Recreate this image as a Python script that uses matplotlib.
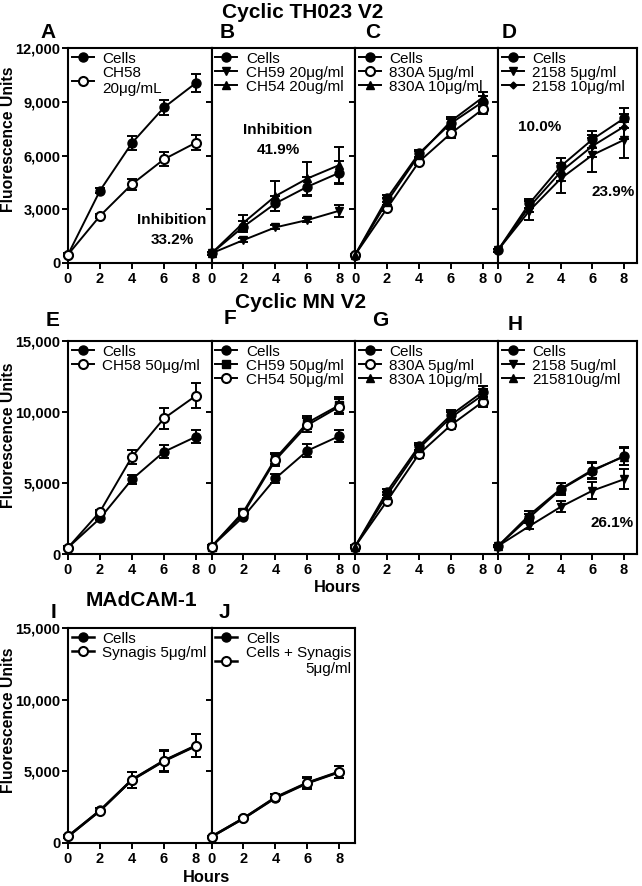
import matplotlib
matplotlib.use("Agg")
import matplotlib.pyplot as plt
from matplotlib.ticker import FuncFormatter

plt.rcParams['font.family'] = ['Liberation Sans', 'DejaVu Sans']

W, H = 642, 886
DPI = 100

hours = [0, 2, 4, 6, 8]
xticks = [0, 2, 4, 6, 8]

# ---------------- data ----------------
A_cells = [470, 4040, 6700, 8680, 10050]; A_cells_e = [100, 150, 400, 430, 500]
A_ch58 = [470, 2630, 4400, 5790, 6720]; A_ch58_e = [100, 120, 300, 400, 420]

B_cells = [540, 2030, 3330, 4260, 5040]; B_cells_e = [80, 300, 400, 520, 630]
B_ch59 = [540, 1280, 1990, 2400, 2920]; B_ch59_e = [80, 100, 120, 120, 330]
B_ch54 = [540, 2250, 3740, 4720, 5470]; B_ch54_e = [80, 410, 840, 930, 1020]

C_cells = [450, 3610, 6120, 7800, 9000]; C_cells_e = [80, 200, 200, 250, 300]
C_830a5 = [450, 3050, 5650, 7240, 8590]; C_830a5_e = [80, 150, 200, 250, 300]
C_830a10 = [450, 3420, 6030, 7920, 9250]; C_830a10_e = [80, 200, 200, 250, 300]

D_cells = [720, 3330, 5410, 6900, 8070]; D_cells_e = [80, 240, 430, 480, 560]
D_2158_5 = [720, 2920, 4720, 6030, 6870]; D_2158_5_e = [80, 520, 840, 930, 1020]
D_2158_10 = [720, 3140, 5100, 6530, 7610]; D_2158_10_e = [80, 300, 500, 600, 700]

E_cells = [450, 2510, 5260, 7200, 8260]; E_cells_e = [100, 150, 300, 450, 450]
E_ch58 = [450, 2980, 6850, 9550, 11150]; E_ch58_e = [100, 150, 500, 750, 900]

F_cells = [520, 2630, 5330, 7280, 8310]; F_cells_e = [100, 150, 300, 450, 420]
F_ch59 = [520, 2980, 6740, 9250, 10490]; F_ch59_e = [100, 200, 400, 470, 540]
F_ch54 = [520, 2860, 6620, 9080, 10380]; F_ch54_e = [100, 200, 400, 470, 540]

G_cells = [520, 4390, 7600, 9790, 11430]; G_cells_e = [100, 200, 250, 350, 400]
G_830a5 = [520, 3730, 7040, 9080, 10730]; G_830a5_e = [100, 150, 250, 300, 350]
G_830a10 = [520, 4150, 7440, 9620, 11200]; G_830a10_e = [100, 200, 250, 350, 400]

H_cells = [560, 2580, 4550, 5850, 6900]; H_cells_e = [100, 250, 420, 590, 610]
H_2158_5 = [560, 1970, 3330, 4460, 5260]; H_2158_5_e = [100, 200, 400, 620, 700]
H_215810 = [560, 2750, 4600, 5920, 6850]; H_215810_e = [100, 250, 400, 550, 600]

I_cells = [460, 2270, 4400, 5720, 6770]; I_cells_e = [80, 200, 580, 750, 800]
I_syn = [460, 2250, 4420, 5750, 6800]; I_syn_e = [80, 200, 550, 700, 800]

J_cells = [440, 1720, 3150, 4180, 4950]; J_cells_e = [80, 100, 250, 400, 440]
J_syn = [440, 1720, 3190, 4210, 4980]; J_syn_e = [80, 100, 200, 350, 420]

top_yticks = [0, 3000, 6000, 9000, 12000]
mid_yticks = [0, 5000, 10000, 15000]

# ---------------- styles ----------------
FILLED = dict(marker='o', mfc='black', mec='black')
OPEN = dict(marker='o', mfc='white', mec='black', mew=1.5)
DOWN = dict(marker='v', mfc='black', mec='black', ms=6)
UP = dict(marker='^', mfc='black', mec='black', ms=6)
SQ = dict(marker='s', mfc='black', mec='black', ms=5.5)
DIA = dict(marker='D', mfc='black', mec='black', ms=3.5)

fig = plt.figure(figsize=(W / DPI, H / DPI), dpi=DPI)


def px_axes(x0, x1, ytop, ybot):
    return fig.add_axes([x0 / W, (H - ybot) / H, (x1 - x0) / W, (ybot - ytop) / H])


fmt = FuncFormatter(lambda v, p: f"{int(v):,}")


def panel(ax, series, yticks, ymax, first, xmax, leg_labels, lw=1.4):
    handles = []
    for (vals, errs, style) in series:
        ms = style.get('ms', 6.5)
        st = {k: v for k, v in style.items() if k != 'ms'}
        ax.errorbar(hours, vals, yerr=errs, fmt='none', ecolor='black',
                    elinewidth=1.4, capsize=3.4, capthick=1.4, clip_on=False, zorder=2)
        ln, = ax.plot(hours, vals, color='black', lw=lw, ms=ms, clip_on=False,
                      zorder=3, **st)
        handles.append(ln)
    ax.set_xlim(0, xmax)
    ax.set_ylim(0, ymax)
    ax.set_xticks(xticks)
    ax.set_yticks(yticks)
    ax.yaxis.set_major_formatter(fmt)
    for s in ax.spines.values():
        s.set_linewidth(1.5)
    ax.tick_params(direction='out', length=4, width=1.4, pad=1.5)
    ax.tick_params(axis='x', pad=2.5)
    for t in ax.get_xticklabels() + ax.get_yticklabels():
        t.set_fontweight('bold')
        t.set_fontsize(10.5)
    if not first:
        ax.set_yticklabels([])
    leg = ax.legend(handles, leg_labels, loc='upper left', bbox_to_anchor=(0.0, 1.0),
                    frameon=False, fontsize=11, handlelength=1.45, handletextpad=0.55,
                    labelspacing=0.0, borderpad=0.15, borderaxespad=0.1)
    return leg


cols = [(68, 211.5), (211.5, 355), (355, 498), (498, 637)]
xmaxs = [8.97, 8.97, 8.94, 8.83]
rows = [(48, 263), (341, 554), (628, 843)]

# top row
axA = px_axes(*cols[0], *rows[0])
panel(axA, [(A_cells, A_cells_e, FILLED), (A_ch58, A_ch58_e, OPEN)],
      top_yticks, 12000, True, xmaxs[0], ['Cells', 'CH58\n20μg/mL'])
axB = px_axes(*cols[1], *rows[0])
panel(axB, [(B_cells, B_cells_e, FILLED), (B_ch59, B_ch59_e, DOWN),
            (B_ch54, B_ch54_e, UP)],
      top_yticks, 12000, False, xmaxs[1], ['Cells', 'CH59 20μg/ml', 'CH54 20ug/ml'])
axC = px_axes(*cols[2], *rows[0])
panel(axC, [(C_cells, C_cells_e, FILLED), (C_830a5, C_830a5_e, OPEN),
            (C_830a10, C_830a10_e, UP)],
      top_yticks, 12000, False, xmaxs[2], ['Cells', '830A 5μg/ml', '830A 10μg/ml'])
axD = px_axes(*cols[3], *rows[0])
panel(axD, [(D_cells, D_cells_e, FILLED), (D_2158_5, D_2158_5_e, DOWN),
            (D_2158_10, D_2158_10_e, DIA)],
      top_yticks, 12000, False, xmaxs[3], ['Cells', '2158 5μg/ml', '2158 10μg/ml'])

# middle row
axE = px_axes(*cols[0], *rows[1])
panel(axE, [(E_cells, E_cells_e, FILLED), (E_ch58, E_ch58_e, OPEN)],
      mid_yticks, 15000, True, xmaxs[0], ['Cells', 'CH58 50μg/ml'])
axF = px_axes(*cols[1], *rows[1])
panel(axF, [(F_cells, F_cells_e, FILLED), (F_ch59, F_ch59_e, SQ),
            (F_ch54, F_ch54_e, OPEN)],
      mid_yticks, 15000, False, xmaxs[1], ['Cells', 'CH59 50μg/ml', 'CH54 50μg/ml'])
axG = px_axes(*cols[2], *rows[1])
panel(axG, [(G_cells, G_cells_e, FILLED), (G_830a5, G_830a5_e, OPEN),
            (G_830a10, G_830a10_e, UP)],
      mid_yticks, 15000, False, xmaxs[2], ['Cells', '830A 5μg/ml', '830A 10μg/ml'])
axH = px_axes(*cols[3], *rows[1])
panel(axH, [(H_cells, H_cells_e, FILLED), (H_2158_5, H_2158_5_e, DOWN),
            (H_215810, H_215810_e, UP)],
      mid_yticks, 15000, False, xmaxs[3], ['Cells', '2158 5ug/ml', '215810ug/ml'])

# bottom row
axI = px_axes(*cols[0], *rows[2])
panel(axI, [(I_cells, I_cells_e, FILLED), (I_syn, I_syn_e, OPEN)],
      mid_yticks, 15000, True, xmaxs[0], ['Cells', 'Synagis 5μg/ml'], lw=1.8)
axJ = px_axes(*cols[1], *rows[2])
legJ = panel(axJ, [(J_cells, J_cells_e, FILLED), (J_syn, J_syn_e, OPEN)],
             mid_yticks, 15000, False, xmaxs[1], ['Cells', 'Cells + Synagis\n5μg/ml'], lw=1.8)
legJ.get_texts()[1].set_multialignment('right')


def ftext(x, y, s, **kw):
    fig.text(x / W, 1 - y / H, s, ha=kw.pop('ha', 'center'), va=kw.pop('va', 'center'), **kw)


# titles
ftext(303, 12, 'Cyclic TH023 V2', fontsize=15, fontweight='bold')
ftext(301, 302, 'Cyclic MN V2', fontsize=15, fontweight='bold')
ftext(141, 601, 'MAdCAM-1', fontsize=15, fontweight='bold')

# panel letters
for (x, y, s) in [(48, 32, 'A'), (227, 32, 'B'), (373, 32, 'C'), (509, 32, 'D'),
                  (53, 321, 'E'), (230, 318, 'F'), (380, 320, 'G'), (515, 325, 'H'),
                  (53, 612, 'I'), (224, 613, 'J')]:
    ftext(x, y, s, fontsize=15, fontweight='bold')

# y labels
for yc in [139, 435, 720]:
    ftext(9, yc, 'Fluorescence Units', fontsize=11.3, fontweight='bold', rotation=90)

# x labels
ftext(338, 588, 'Hours', fontsize=11.8, fontweight='bold')
ftext(207, 877, 'Hours', fontsize=11.8, fontweight='bold')

# annotations
ftext(172, 220, 'Inhibition', fontsize=11, fontweight='bold')
ftext(172, 240, '33.2%', fontsize=11, fontweight='bold')
ftext(278, 130, 'Inhibition', fontsize=11, fontweight='bold')
ftext(278, 150, '41.9%', fontsize=11, fontweight='bold')
ftext(540, 127, '10.0%', fontsize=11, fontweight='bold')
ftext(613, 192, '23.9%', fontsize=11, fontweight='bold')
ftext(612, 523, '26.1%', fontsize=11, fontweight='bold')

fig.savefig('out.png', dpi=DPI)
